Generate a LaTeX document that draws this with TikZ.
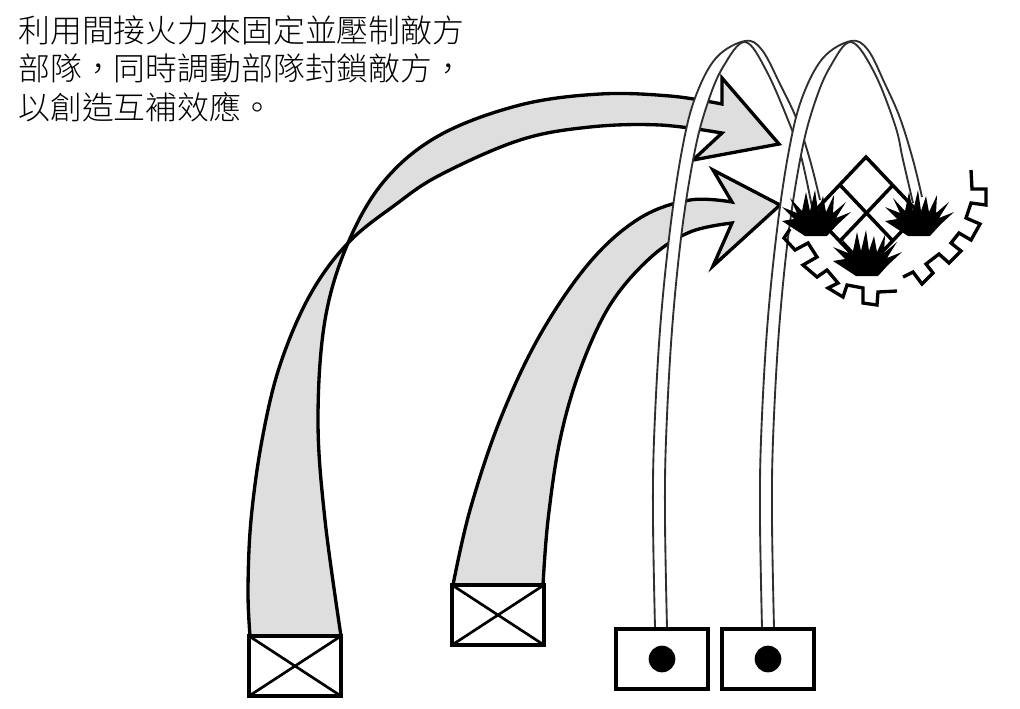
\documentclass[tikz,border=0pt]{standalone}
\usepackage{fontspec}
\newfontfamily\cjk{Noto Sans CJK TC Light}
\tikzset{
  unitbox/.style={draw=black,fill=white,line width=3.2pt,minimum width=69pt,minimum height=45pt,inner sep=0pt,outer sep=0pt},
  crossline/.style={draw=black,line width=2pt},
  movearrow/.style={draw=black,fill=arrowgray,line width=2.5pt,line join=miter},
  bandfill/.style={fill=white},
  bandline/.style={draw=bandcol,line width=1.4pt},
  gridline/.style={draw=black,line width=2.6pt},
  gearline/.style={draw=black,line width=2.5pt,line join=miter},
  dotmark/.style={circle,fill=black,inner sep=0pt,outer sep=0pt,minimum size=20pt}
}
\definecolor{arrowgray}{RGB}{222,222,222}
\definecolor{bandcol}{RGB}{50,46,44}
\newcommand{\bandshape}[2]{%
  \path[bandfill] plot[smooth,tension=.6] coordinates {#1} -- plot[smooth,tension=.6] coordinates {#2} -- cycle;
  \path[bandline] plot[smooth,tension=.6] coordinates {#1};
  \path[bandline] plot[smooth,tension=.6] coordinates {#2};
}
\newcommand{\grassshape}[1]{%
  \fill[black,shift={(#1)}] (805,236) -- (782,221) -- (794,219) -- (782,207) -- (797,213) -- (790,198) -- (802,211) -- (806,192) -- (810,211) -- (815,190) -- (818,211) -- (823,196) -- (826,212) -- (834,195) -- (833,213) -- (846,202) -- (836,218) -- (851,212) -- (837,225) -- (827,236) -- cycle;
}
\begin{document}
\begin{tikzpicture}[x=0.75pt,y=-0.75pt]
\useasboundingbox (0,0) rectangle (1020,708);
% units
\coordinate (a1nw) at (250,636);
\coordinate (a1ne) at (341,636);
\coordinate (a2nw) at (453,585);
\coordinate (a2ne) at (543,585);
% arrows
\path[movearrow] plot[smooth,tension=.6] coordinates {(a1ne) (325,520) (318,420) (325,320) (348,243) (385,180) (440,135) (520,105) (600,94) (670,96) (722,104)}
  -- (722,78) -- (779,144) -- (693,160) -- (722,133)
  -- plot[smooth,tension=.6] coordinates {(722,133) (660,125) (590,127) (520,140) (440,175) (395,205) (348,243) (310,295) (280,365) (262,440) (251,520) (248,590) (a1nw)} -- cycle;
\path[movearrow] plot[smooth,tension=.6] coordinates {(a2nw) (470,510) (500,420) (540,335) (590,262) (640,218) (690,200) (732,202)}
  -- (713,170) -- (780,205) -- (713,266) -- (732,223)
  -- plot[smooth,tension=.6] coordinates {(732,223) (690,232) (650,258) (610,305) (580,370) (560,440) (548,520) (a2ne)} -- cycle;
% trajectories
\bandshape{(655,628) (653,520) (654,440) (660,330) (670,230) (682,150) (695,98) (716,58) (745,41) (762,50) (780,84) (797,120) (810,160) (820,200)}
{(812,207) (802,160) (792,130) (767,72) (745,42) (723,67) (708,102) (695,150) (682,230) (672,330) (666,440) (665,520) (667,628)}
\bandshape{(762,628) (760,520) (761,440) (767,330) (777,230) (789,150) (802,98) (823,58) (851,41) (868,50) (885,84) (900,118) (913,160) (922,197)}
{(913,203) (903,160) (895,125) (874,72) (851,42) (830,67) (815,102) (802,150) (789,230) (779,330) (773,440) (772,520) (774,628)}
% objective
\path[gridline,line join=miter] (866,157) -- (919,213) -- (866,269) -- (813,213) -- cycle;
\path[gridline] (840,185) -- (893,241);
\path[gridline] (893,185) -- (840,241);
\grassshape{0,0}
\grassshape{103,0}
\grassshape{51,40}
% gear
\path[gearline] (790,229) -- (784,238) -- (795,250) -- (808,243) -- (817,257) -- (803,265) -- (817,277) -- (827,270) -- (838,283) -- (828,288) -- (843,297) -- (847,285) -- (863,288) -- (863,303) -- (877,305) -- (878,292) -- (897,291);
\path[gearline] (903,277) -- (913,272) -- (922,284) -- (933,273) -- (926,264) -- (939,254) -- (949,263) -- (961,251) -- (951,243) -- (959,233) -- (971,240) -- (980,224) -- (966,218) -- (971,203) -- (986,205) -- (986,189) -- (972,189) -- (971,170);
% units
\node[unitbox] (u1) at (295,666) {};
\node[unitbox] (u2) at (498,615) {};
\node[unitbox] (u3) at (662,659) {};
\node[unitbox] (u4) at (768,659) {};
\path[crossline] (u1.north west) -- (u1.south east);
\path[crossline] (u1.north east) -- (u1.south west);
\path[crossline] (u2.north west) -- (u2.south east);
\path[crossline] (u2.north east) -- (u2.south west);
\node[dotmark] (d3) at (u3.center) {};
\node[dotmark] (d4) at (u4.center) {};
% caption
\node[anchor=north west,inner sep=0pt,align=left,font=\cjk\fontsize{23.9}{28.9}\selectfont] (cap) at (18,15) {利用間接火力來固定並壓制敵方\\部隊^^^^ff0c同時調動部隊封鎖敵方^^^^ff0c\\以創造互補效應。};
\end{tikzpicture}
\end{document}
